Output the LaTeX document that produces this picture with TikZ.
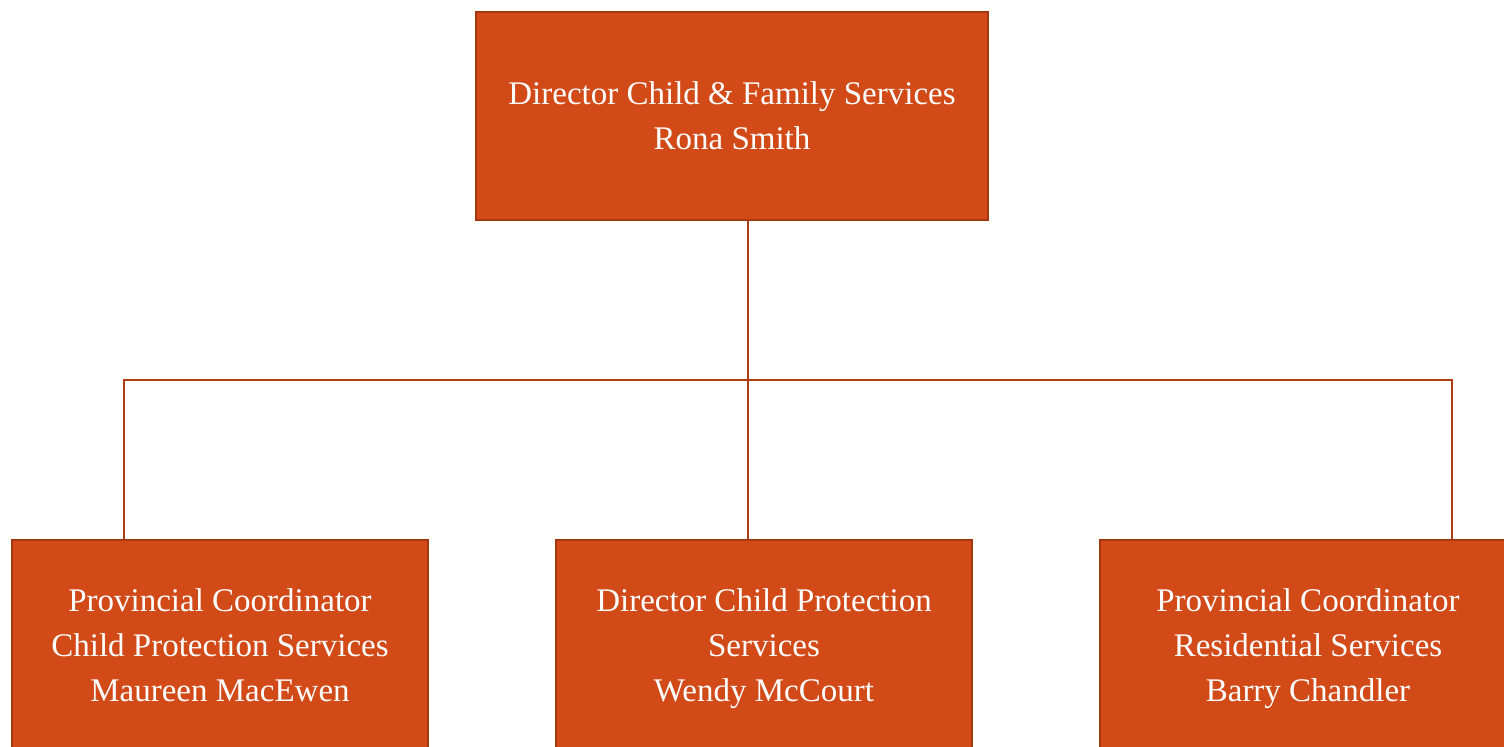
\documentclass[tikz,border=0pt]{standalone}
\usepackage{fontspec}
\setmainfont{Liberation Serif}
\usepackage{xcolor}
\usepackage{tikz}
\usetikzlibrary{positioning}

\definecolor{boxfill}{HTML}{D24A18}
\definecolor{boxedge}{HTML}{A2380F}
\definecolor{linkcol}{HTML}{B23C12}

\begin{document}
\begin{tikzpicture}[x=0.5pt, y=0.5pt,
  orgbox/.style={draw=boxedge, fill=boxfill, line width=1pt, text=white,
    align=center, inner sep=0pt, text depth=0pt,
    font=\fontsize{16.5}{22.5}\selectfont},
  link/.style={draw=linkcol, line width=1pt}]
\useasboundingbox (0,0) rectangle (1504,746);
\clip (0,0) rectangle (1504,746);

% top level
\node[orgbox, minimum width=256pt, minimum height=104pt] (director) at (732,630)
  {Director Child \& Family Services\\Rona Smith};

% second level
\foreach \name/\cx/\txt in {
  cpcoord/220/{Provincial Coordinator\\Child Protection Services\\Maureen MacEwen},
  cpdir/764/{Director Child Protection\\Services\\Wendy McCourt},
  rescoord/1308/{Provincial Coordinator\\Residential Services\\Barry Chandler}} {
  \node[orgbox, minimum width=208pt, minimum height=105pt] (\name) at (\cx,101) {\txt};
}

% connectors
\coordinate (split) at (748,366);
\draw[link] (director.south -| split) -- (cpdir.north -| split);
\draw[link] (cpcoord.north -| 124,0) |- (split) -| (rescoord.north -| 1452,0);
\end{tikzpicture}
\end{document}
